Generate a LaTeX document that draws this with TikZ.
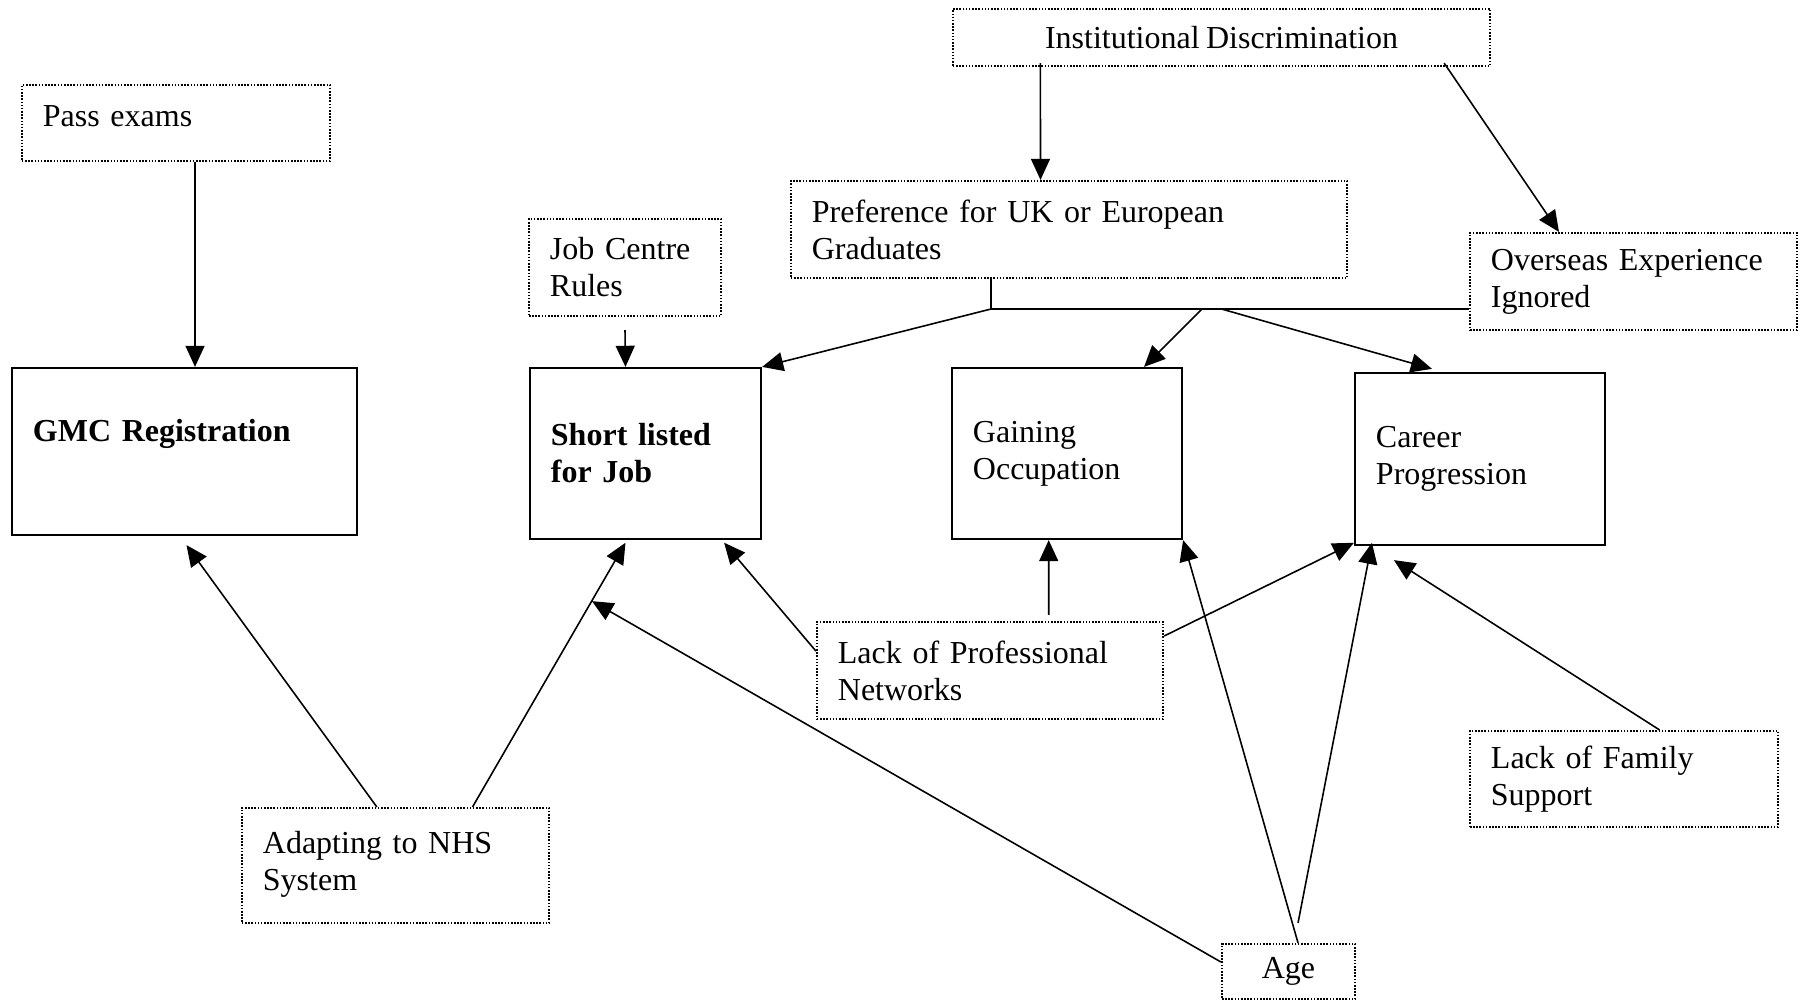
\documentclass[tikz,border=0pt]{standalone}
\usepackage{fontspec}
\setmainfont{Liberation Serif}[WordSpace=0.8]
\usepackage{tikz}
\usetikzlibrary{arrows.meta}

\tikzset{
  factor/.style={draw, line width=0.6pt, dash pattern=on 0.45pt off 0.45pt, inner xsep=0.21cm, inner ysep=0pt, align=left, font=\fontsize{9.1}{10.5}\selectfont},
  outcome/.style={draw, line width=0.6pt, inner xsep=0.21cm, inner ysep=0pt, align=left, font=\fontsize{9.1}{10.5}\selectfont},
  arr/.style={line width=0.45pt, -{Triangle[length=6pt,width=5.4pt]}},
  link/.style={line width=0.45pt}
}

\begin{document}
\begin{tikzpicture}[x=0.01cm,y=-0.01cm]
\useasboundingbox (0,0) rectangle (1807,1003);

\node[factor, minimum width=5.37cm, minimum height=0.57cm, align=center](inst) at (1221.5,37.5) {Institutional Discrimination};
\node[factor, text width=2.66cm, minimum height=0.76cm](pass) at (176,123) {Pass exams\\[-0.22cm]\mbox{}};
\node[factor, text width=5.14cm, minimum height=0.97cm](pref) at (1069,229.5) {Preference for UK or European\\Graduates};
\node[factor, text width=1.50cm, minimum height=0.97cm](jcr) at (625,267.5) {Job Centre\\Rules};
\node[factor, text width=2.85cm, minimum height=0.97cm](over) at (1633.5,281.5) {Overseas Experience\\Ignored};

\node[outcome, text width=3.03cm, minimum height=1.67cm](gmc) at (184.5,451.5) {\textbf{GMC Registration}\\[0.05cm]\mbox{}};
\node[outcome, text width=1.89cm, minimum height=1.71cm](short) at (645.5,453.5) {\textbf{Short listed}\\\textbf{for Job}};
\node[outcome, text width=1.88cm, minimum height=1.71cm](gain) at (1067,453.5) {Gaining\\Occupation};
\node[outcome, text width=2.08cm, minimum height=1.72cm](career) at (1480,459) {Career\\Progression};

\node[factor, text width=3.04cm, minimum height=0.97cm](lpn) at (990,670.5) {Lack of Professional\\Networks};
\node[factor, text width=2.66cm, minimum height=0.96cm](lfs) at (1624,779) {Lack of Family\\Support};
\node[factor, text width=2.65cm, minimum height=1.15cm](adapt) at (395.5,865.5) {Adapting to NHS\\System\\[-0.27cm]\mbox{}};
\node[factor, minimum width=1.33cm, minimum height=0.55cm, align=center](age) at (1288.5,971.5) {Age};

% split line under the preference box
\coordinate (split) at (991,309);
\coordinate (splitb) at (1202,309);
\coordinate (splitc) at (1221.5,309);
\draw[link] ([xshift=-0.78cm]pref.south) -- (split) -- (split -| over.west);

\path ([xshift=0.19cm]pass.south) edge [arr] ([xshift=0.105cm]gmc.north);
\path ([xshift=-1.81cm,yshift=0.04cm]inst.south) edge [arr] ([xshift=-0.285cm]pref.north);
\path ([xshift=2.225cm,yshift=0.04cm]inst.south) edge [arr] ([xshift=-0.745cm]over.north);
\path ([yshift=-0.13cm]jcr.south) edge [arr] ([xshift=-0.2cm]short.north);
\path (split) edge [arr] (short.north east);
\path (splitb) edge [arr] ([xshift=0.77cm]gain.north);
\path (splitc) edge [arr] ([xshift=-0.48cm,yshift=0.03cm]career.north);
\path ([xshift=-0.187cm]adapt.north) edge [arr] ([xshift=0.02cm,yshift=-0.09cm]gmc.south);
\path ([xshift=0.77cm]adapt.north) edge [arr] ([xshift=-0.2cm,yshift=-0.026cm]short.south);
\path ([yshift=0.095cm]age.west) edge [arr] ([xshift=-0.535cm,yshift=-0.61cm]short.south);
\path ([yshift=0.195cm]lpn.west) edge [arr] ([xshift=-0.38cm,yshift=-0.026cm]short.south east);
\path ([xshift=0.587cm,yshift=0.06cm]lpn.north) edge [arr] ([xshift=-0.183cm]gain.south);
\path ([yshift=0.345cm]lpn.east) edge [arr] ([yshift=0.033cm]career.south west);
\path ([xshift=0.095cm]age.north) edge [arr] (gain.south east);
\path ([xshift=0.095cm,yshift=0.2cm]age.north) edge [arr] ([xshift=0.18cm,yshift=0.033cm]career.south west);
\path ([xshift=0.355cm]lfs.north) edge [arr] ([xshift=0.40cm,yshift=-0.14cm]career.south west);
\end{tikzpicture}
\end{document}
